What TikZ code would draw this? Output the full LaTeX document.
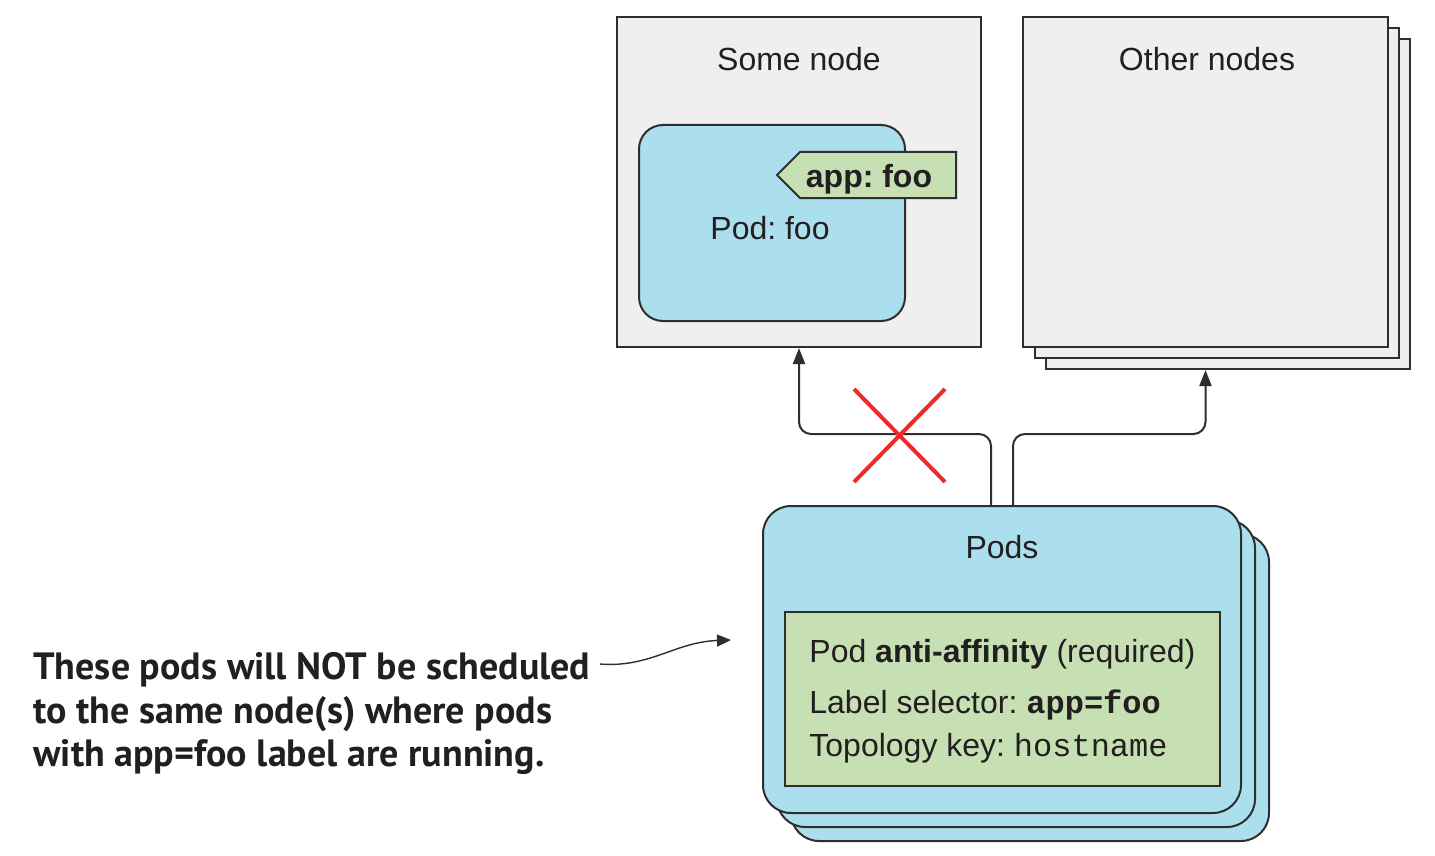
\documentclass[tikz,border=0pt]{standalone}
\usepackage{fontspec}
\setmainfont{Liberation Sans}
\setmonofont{Liberation Mono}
\newfontfamily\notefont{PT Sans}
\usetikzlibrary{arrows.meta,shapes.symbols}
\frenchspacing

\definecolor{ink}{HTML}{231F20}
\definecolor{edge}{HTML}{2E2E2E}
\definecolor{hostgray}{HTML}{EFEFEF}
\definecolor{podblue}{HTML}{ABDFEE}
\definecolor{rulegreen}{HTML}{C6E0B4}
\definecolor{nogo}{HTML}{EE2A2A}

\begin{document}
\begin{tikzpicture}[x=0.5pt,y=-0.5pt,
  txt/.style={text=ink, inner sep=0pt, font=\fontsize{16}{19}\selectfont},
  hostbox/.style={draw=edge, line width=1pt, fill=hostgray,
    minimum width=182pt, minimum height=165pt, inner sep=0pt},
  podbox/.style={draw=edge, line width=1pt, fill=podblue, rounded corners=14pt,
    minimum width=239pt, minimum height=153.5pt, inner sep=0pt},
  rulebox/.style={draw=edge, line width=1pt, fill=rulegreen,
    minimum width=217.5pt, minimum height=87pt, inner sep=0pt},
  tagbox/.style={draw=edge, line width=1pt, fill=rulegreen, signal, signal to=west,
    signal pointer angle=90, minimum width=89.5pt, minimum height=23pt, inner sep=0pt},
  conn/.style={draw=edge, line width=1pt, rounded corners=6pt,
    -{Triangle[length=8pt,width=6pt]}},
  notetxt/.style={text=ink, inner sep=0pt, font=\notefont\bfseries\fontsize{19}{22}\selectfont},
]
\useasboundingbox (0,0) rectangle (1435,856);

% host holding the foo pod
\node[hostbox] (somenode) at (799,182) {};
\node[txt, anchor=base] (somenodetitle) at (799,71) {Some node};
\node[draw=edge, line width=1pt, fill=podblue, rounded corners=12pt,
  minimum width=133pt, minimum height=98pt, inner sep=0pt] (podfoo) at (772,223) {};
\node[txt, anchor=base] (podfootitle) at (770,239) {Pod: foo};
\node[tagbox] (tag) at (878,175) {};
\node[txt, anchor=base, font=\fontsize{16}{19}\selectfont\bfseries] (tagtext) at (869,187) {app: foo};

% stack of other hosts
\node[hostbox] (other3) at (1228,204) {};
\node[hostbox] (other2) at (1217,193) {};
\node[hostbox, minimum width=182.5pt] (other1) at (1205.5,182) {};
\node[txt, anchor=base] (othertitle) at (1207,71) {Other nodes};

% stack of pods carrying the anti-affinity rule
\node[podbox] (pods3) at (1030,687.5) {};
\node[podbox] (pods2) at (1016,673.5) {};
\node[podbox] (pods) at (1002,659.5) {};
\node[txt, anchor=base] (podstitle) at (1002,558) {Pods};
\node[rulebox] (rule) at (1002.5,699) {};
\node[txt, anchor=base west] (rule1) at (809,662) {Pod \textbf{anti-affinity} (required)};
\node[txt, anchor=base west] (rule2) at (809,713) {Label selector: \texttt{\textbf{app=foo}}};
\node[txt, anchor=base west] (rule3) at (809,756) {Topology key: \texttt{hostname}};

% scheduling paths
\draw[conn] ([xshift=-5.5pt]pods.north) -- ++(0,-71) -| (somenode.south);
\draw[conn] ([xshift=5.5pt]pods.north) -- ++(0,-71) -| (other1.south |- other3.south);

% forbidden placement
\coordinate (cross) at (899.5,435.5);
\draw[nogo, line width=2pt] ([shift={(-45.5,-46.5)}]cross) -- ([shift={(45.5,46.5)}]cross);
\draw[nogo, line width=2pt] ([shift={(45.5,-46.5)}]cross) -- ([shift={(-45.5,46.5)}]cross);

% annotation
\node[notetxt, anchor=base west] (note1) at (33,679) {These pods will NOT be scheduled};
\node[notetxt, anchor=base west] (note2) at (33,723) {to the same node(s) where pods};
\node[notetxt, anchor=base west] (note3) at (33,766) {with app=foo label are running.};
\coordinate (notestart) at (600,664);
\coordinate (notetip) at (731,640);
\draw[edge, line width=0.7pt, -{Triangle[length=7pt,width=6pt]}]
  (notestart) .. controls (650,668) and (675,642) .. (notetip);
\end{tikzpicture}
\end{document}
